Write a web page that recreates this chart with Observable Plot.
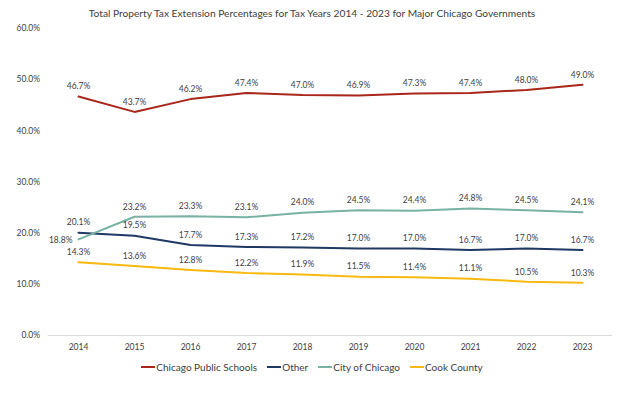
<!DOCTYPE html>
<html>
<head>
<meta charset="utf-8">
<script src="https://cdn.jsdelivr.net/npm/d3@7"></script>
<script src="https://cdn.jsdelivr.net/npm/@observablehq/plot@0.6"></script>
<style>
  body { margin: 0; background: #fff; font-family: "Lato", sans-serif; }
  #title { height: 22px; line-height: 26px; text-align: center; font-size: 10.2px; color: #404040; width: 624px; white-space: nowrap; }
  #legend { display: flex; justify-content: center; gap: 10px; width: 624px; font-size: 10px; color: #404040; height: 20px; align-items: center; }
  .item { display: flex; align-items: center; }
  .sw { width: 14px; height: 2px; margin-right: 1px; }
</style>
</head>
<body>
<div id="title">Total Property Tax Extension Percentages for Tax Years 2014 - 2023 for Major Chicago Governments</div>
<div id="chart"></div>
<div id="legend"></div>
<script>
const years = ["2014","2015","2016","2017","2018","2019","2020","2021","2022","2023"];
const seriesNames = ["Chicago Public Schools","Other","City of Chicago","Cook County"];
const seriesColors = ["#a9261b","#1f3864","#78b2a3","#f7b90f"];
const cps   = [46.7, 43.7, 46.2, 47.4, 47.0, 46.9, 47.3, 47.4, 48.0, 49.0];
const other = [20.1, 19.5, 17.7, 17.3, 17.2, 17.0, 17.0, 16.7, 17.0, 16.7];
const city  = [18.8, 23.2, 23.3, 23.1, 24.0, 24.5, 24.4, 24.8, 24.5, 24.1];
const cook  = [14.3, 13.6, 12.8, 12.2, 11.9, 11.5, 11.4, 11.1, 10.5, 10.3];
const yTicks = [0, 10, 20, 30, 40, 50, 60];

const allSeries = [cps, other, city, cook];
const data = [];
allSeries.forEach((vals, si) => vals.forEach((v, i) => data.push({series: seriesNames[si], year: years[i], value: v})));

const fmt = d => d.toFixed(1) + "%";
const isLeft = d => d.series === "City of Chicago" && d.year === "2014";

const chart = Plot.plot({
  width: 624,
  height: 335,
  marginLeft: 47.6,
  marginRight: 12,
  marginTop: 6,
  marginBottom: 22,
  style: { fontFamily: "Lato, sans-serif", fontSize: "8.5px", color: "#404040", background: "#fff" },
  x: { type: "point", domain: years, padding: 0.5, label: null },
  y: { domain: [0, 60], label: null },
  color: { domain: seriesNames, range: seriesColors },
  marks: [
    Plot.ruleY([0], { stroke: "#d9d9d9", strokeWidth: 1 }),
    Plot.axisY({ ticks: yTicks, tickFormat: fmt, tickSize: 0, tickPadding: 8, label: null, fill: "#404040" }),
    Plot.axisX({ tickSize: 0, tickPadding: 8, label: null, fill: "#404040" }),
    Plot.line(data, { x: "year", y: "value", z: "series", stroke: "series", strokeWidth: 2 }),
    Plot.text(data.filter(d => !isLeft(d)), { x: "year", y: "value", text: d => fmt(d.value), dy: -10, fill: "#404040", fontSize: 8.5 }),
    Plot.text(data.filter(isLeft), { x: "year", y: "value", text: d => fmt(d.value), dx: -6, dy: 1, textAnchor: "end", fill: "#404040", fontSize: 8.5 })
  ]
});
document.getElementById("chart").appendChild(chart);

const leg = document.getElementById("legend");
seriesNames.forEach((n, i) => {
  const it = document.createElement("div");
  it.className = "item";
  const sw = document.createElement("span");
  sw.className = "sw";
  sw.style.background = seriesColors[i];
  const t = document.createElement("span");
  t.textContent = n;
  it.appendChild(sw); it.appendChild(t);
  leg.appendChild(it);
});
</script>
</body>
</html>
